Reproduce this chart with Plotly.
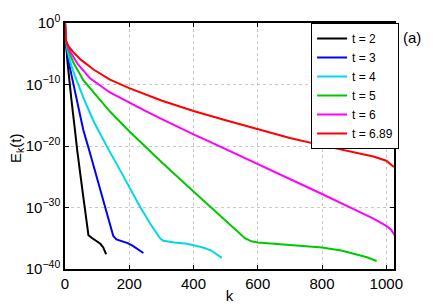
import plotly.graph_objects as go

# k values and log10(E_k) values
k_t2 = [0, 1, 3, 8, 13, 20, 31, 38, 55, 73, 85, 100, 110, 119, 128]
logE_t2 = [0, -2.5, -3.2, -6.5, -9.3, -12.5, -17.4, -20.7, -27.5, -34.5, -35.0, -35.5, -35.9, -36.5, -37.6]

k_t3 = [0, 1, 3, 10, 24, 40, 57, 76, 100, 130, 150, 160, 180, 195, 210, 225, 244]
logE_t3 = [0, -2.5, -3.1, -6.0, -9.3, -13.3, -17.4, -20.8, -25.3, -31.0, -34.6, -35.2, -35.5, -35.8, -36.2, -36.7, -37.4]

k_t4 = [0, 1, 3, 10, 20, 36, 60, 90, 119, 140, 170, 200, 234, 265, 296, 306, 340, 380, 430, 455, 470, 488]
logE_t4 = [0, -2.5, -3.0, -5.0, -7.0, -9.3, -12.5, -16.1, -19.0, -21.0, -23.8, -26.7, -29.9, -32.6, -35.0, -35.4, -35.7, -35.9, -36.5, -37.0, -37.5, -38.2]

k_t5 = [0, 1, 3, 10, 25, 57, 100, 140, 200, 300, 400, 500, 560, 580, 600, 700, 800, 860, 900, 940, 970]
logE_t5 = [0, -2.5, -2.9, -4.4, -6.3, -9.3, -12.0, -14.4, -17.6, -22.6, -27.4, -32.2, -35.0, -35.5, -35.7, -36.1, -36.5, -37.0, -37.5, -38.1, -38.7]

k_t6 = [0, 1, 3, 10, 20, 40, 78, 140, 200, 250, 300, 350, 400, 450, 500, 600, 700, 800, 900, 960, 1000, 1015, 1026]
logE_t6 = [0, -2.5, -2.9, -4.0, -5.0, -6.7, -9.0, -11.3, -13.0, -14.3, -15.6, -16.9, -18.1, -19.3, -20.5, -22.9, -25.3, -27.8, -30.3, -31.8, -33.0, -33.6, -34.5]

k_t689 = [0, 1, 3, 10, 25, 50, 90, 140, 200, 300, 400, 500, 600, 700, 800, 900, 960, 1000, 1024]
logE_t689 = [0, -2.5, -2.9, -3.7, -4.7, -6.0, -7.6, -9.2, -10.6, -12.6, -14.3, -15.8, -17.3, -18.7, -19.9, -21.0, -21.7, -22.4, -23.4]

series_names = ["t = 2", "t = 3", "t = 4", "t = 5", "t = 6", "t = 6.89"]
series_k = [k_t2, k_t3, k_t4, k_t5, k_t6, k_t689]
series_logE = [logE_t2, logE_t3, logE_t4, logE_t5, logE_t6, logE_t689]
colors = ["#000000", "#0000ff", "#00d8e8", "#00c800", "#ff00ff", "#ff0000"]

x_ticks = [0, 200, 400, 600, 800, 1000]
y_tick_exps = [-40, -30, -20, -10, 0]

fig = go.Figure()
for name, ks, ls, c in zip(series_names, series_k, series_logE, colors):
    fig.add_trace(go.Scatter(
        x=ks, y=[10.0 ** v for v in ls], mode="lines", name=name,
        line=dict(color=c, width=2),
    ))

fam = "Liberation Sans, Arial, sans-serif"
font = dict(family=fam, size=14, color="black")

# page body has an 8px margin, so the margins are shifted to compensate
fig.update_layout(
    width=436, height=306,
    margin=dict(l=57, r=50, t=15, b=45, autoexpand=False),
    paper_bgcolor="white", plot_bgcolor="white",
    font=font,
    showlegend=True,
    legend=dict(
        x=0.748, y=1.0, xanchor="left", yanchor="top",
        bordercolor="black", borderwidth=1, bgcolor="white",
        font=dict(family=fam, size=12, color="black"),
        tracegroupgap=0, itemwidth=30,
    ),
    hovermode=False,
)

fig.update_xaxes(
    range=[0, 1024], tickvals=x_ticks, ticktext=[str(v) for v in x_ticks],
    showgrid=True, gridcolor="#c8c8c8", griddash="dot", gridwidth=1,
    showline=True, linecolor="black", linewidth=1.5, mirror="ticks",
    ticks="inside", ticklen=4, tickcolor="black",
    zeroline=False, automargin=False,
    title=dict(text="k", font=dict(size=15), standoff=0),
    tickfont=dict(size=15),
)
fig.update_yaxes(
    type="log", range=[-40, 0],
    tickvals=[10.0 ** e for e in y_tick_exps],
    ticktext=["10<sup>%s</sup>" % (str(e).replace("-", "\u2212")) for e in y_tick_exps],
    showgrid=True, gridcolor="#c8c8c8", griddash="dot", gridwidth=1,
    showline=True, linecolor="black", linewidth=1.5, mirror="ticks",
    ticks="inside", ticklen=4, tickcolor="black",
    zeroline=False, automargin=False,
    tickfont=dict(size=15),
)

fig.add_annotation(
    x=0.0, y=0.5, xref="paper", yref="paper", xanchor="center", yanchor="middle",
    xshift=-49, yshift=-3, text="E<sub>k</sub>(t)", textangle=-90,
    showarrow=False, font=dict(size=15),
)

fig.add_annotation(
    x=1.0, y=0.94, xref="paper", yref="paper", xanchor="left", yanchor="middle",
    xshift=7, text="(a)", showarrow=False, font=dict(size=15),
)

fig.write_html("out.html")
